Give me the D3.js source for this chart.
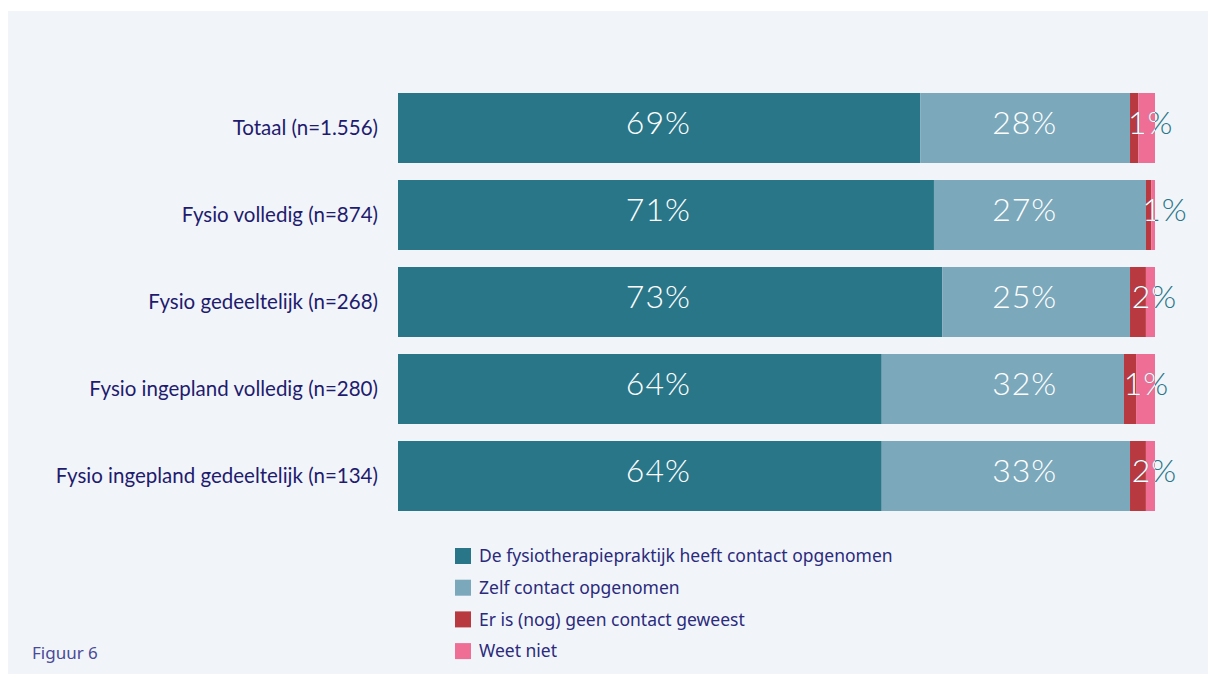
<!DOCTYPE html>
<html><head><meta charset="utf-8">
<script src="https://cdn.jsdelivr.net/npm/d3@7"></script>
<style>
html,body{margin:0;padding:0;background:#fff;}
svg{display:block;}
</style></head>
<body>
<svg id="chart" width="1208" height="674"></svg>
<script>
const categories = ["Totaal (n=1.556)","Fysio volledig (n=874)","Fysio gedeeltelijk (n=268)","Fysio ingepland volledig (n=280)","Fysio ingepland gedeeltelijk (n=134)"];
const seriesNames = ["De fysiotherapiepraktijk heeft contact opgenomen","Zelf contact opgenomen","Er is (nog) geen contact geweest","Weet niet"];
const praktijk = [69.0, 70.8, 71.9, 63.9, 63.9];
const zelf     = [27.7, 28.0, 24.8, 32.0, 32.8];
const geen     = [1.1, 0.7, 2.1, 1.6, 2.1];
const weetNiet = [2.2, 0.5, 1.2, 2.5, 1.2];
const praktijkLabels = ["69%","71%","73%","64%","64%"];
const zelfLabels     = ["28%","27%","25%","32%","33%"];
const geenLabels     = ["1%","1%","2%","1%","2%"];
const colors = ["#2a7689","#7ba8bb","#b8393f","#ee6e96"];

const svg = d3.select("#chart");
svg.append("rect").attr("x",8).attr("y",11).attr("width",1200).attr("height",663).attr("fill","#f1f5f9");

const x = d3.scaleLinear().domain([0,100]).range([398,1155]);
const y = d3.scaleBand().domain(categories).range([93,511]).paddingInner(17/87).paddingOuter(0);

const data = categories.map((c,i)=>({cat:c, vals:[praktijk[i],zelf[i],geen[i],weetNiet[i]], labels:[praktijkLabels[i],zelfLabels[i],geenLabels[i]]}));

// label columns (in percentage units of the x scale)
const labelCols = [34.4, 82.8];
const numFont = "Lato, 'Open Sans', sans-serif";
const defs = svg.append("defs");
const rows = svg.append("g").selectAll("g").data(data).join("g");

rows.each(function(d,i){
  const g = d3.select(this);
  let cum = 0;
  const segs = d.vals.map((v,k)=>{const s={k, x0:cum, x1:cum+v}; cum+=v; return s;});
  g.selectAll("rect").data(segs).join("rect")
    .attr("x",s=>x(s.x0)).attr("width",s=>x(s.x1)-x(s.x0))
    .attr("y",y(d.cat)).attr("height",y.bandwidth())
    .attr("fill",s=>colors[s.k]);
  const ty = y(d.cat)+41;
  [0,1].forEach(k=>{
    g.append("text").attr("x",x(labelCols[k])).attr("y",ty)
      .attr("text-anchor","middle")
      .attr("font-family",numFont).attr("font-weight",300)
      .attr("font-size",32).attr("letter-spacing",1).attr("fill","#ffffff").text(d.labels[k]);
  });
  const clipId = "clip"+i;
  defs.append("clipPath").attr("id",clipId).append("rect")
    .attr("x",x(0)).attr("y",y(d.cat)).attr("width",x(cum)-x(0)).attr("height",y.bandwidth());
  const lx = (x(segs[2].x0)+x(segs[2].x1))/2+16.5;
  const lbl = (fill)=> g.append("text").attr("x",lx).attr("y",ty)
      .attr("text-anchor","middle").attr("font-family",numFont)
      .attr("font-weight",300).attr("font-size",32).attr("letter-spacing",1).attr("fill",fill).text(d.labels[2]);
  lbl("#2a7689");
  lbl("#ffffff").attr("clip-path",`url(#${clipId})`);
});

const yAxis = svg.append("g").attr("transform","translate(398,0)")
  .call(d3.axisLeft(y).tickSize(0).tickPadding(20));
yAxis.select(".domain").remove();
yAxis.selectAll("text").attr("font-family","Lato, 'Noto Sans', sans-serif").attr("font-weight",400)
  .attr("font-size",20.5).attr("fill","#1f1b6e");

const legend = svg.append("g").selectAll("g").data(seriesNames).join("g")
  .attr("transform",(d,i)=>`translate(455,${548+i*31.7})`);
legend.append("rect").attr("width",16).attr("height",16).attr("fill",(d,i)=>colors[i]);
legend.append("text").attr("x",24).attr("y",8).attr("dy","0.36em")
  .attr("font-family","'Noto Sans', 'Open Sans', sans-serif").attr("font-size",17.5)
  .attr("fill","#2b2a7c").text(d=>d);

svg.append("text").attr("x",32).attr("y",659).attr("font-family","'Noto Sans', 'Open Sans', sans-serif")
  .attr("font-size",17).attr("fill","#4a4a98").text("Figuur 6");
</script>
</body></html>
